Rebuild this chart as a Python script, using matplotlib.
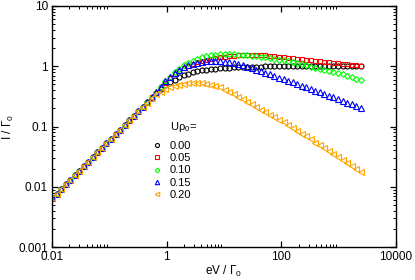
import numpy as np
import matplotlib
matplotlib.use("Agg")
import matplotlib.pyplot as plt
from matplotlib.lines import Line2D
from matplotlib.ticker import FixedLocator, NullFormatter

plt.rcParams['font.family'] = ['Liberation Sans', 'DejaVu Sans']
plt.rcParams['mathtext.fontset'] = 'custom'
plt.rcParams['mathtext.rm'] = 'Liberation Sans'
plt.rcParams['mathtext.it'] = 'Liberation Sans:italic'

# bias voltage eV/Gamma0 (sampling points)
ev = [0.01, 0.012, 0.0144, 0.01728, 0.02074, 0.02488, 0.02986, 0.03583, 0.043, 0.0516,
      0.06192, 0.0743, 0.08916, 0.107, 0.1284, 0.1541, 0.1849, 0.2219, 0.2662, 0.3195,
      0.3834, 0.46, 0.5521, 0.6625, 0.795, 0.954, 1.145, 1.374, 1.648, 1.978,
      2.374, 2.849, 3.418, 4.102, 4.922, 5.907, 7.088, 8.506, 10.21, 12.25,
      14.7, 17.64, 21.17, 25.4, 30.48, 36.57, 43.89, 52.67, 63.2, 75.84,
      91.0, 109.2, 131.1, 157.3, 188.7, 226.5, 271.7, 326.1, 391.3, 469.6,
      563.5, 676.2, 811.4, 973.7, 1168.0, 1402.0, 1683.0, 2019.0, 2423.0]

# current I/Gamma0, common low-bias part
low_bias = [0.00646, 0.00769, 0.00916, 0.0109, 0.0130, 0.0155, 0.0185, 0.0220, 0.0262, 0.0312,
            0.0372, 0.0443, 0.0527, 0.0628, 0.0748, 0.0891, 0.106, 0.126, 0.151, 0.179, 0.214]

i_u000 = low_bias + [0.255, 0.302, 0.357, 0.42, 0.48, 0.54, 0.60, 0.655, 0.705, 0.75,
                     0.79, 0.825, 0.855, 0.88, 0.90, 0.915, 0.93, 0.943, 0.953, 0.962,
                     0.969, 0.975, 0.98, 0.984, 0.987, 0.99, 0.992, 0.994, 0.995, 0.996,
                     0.997, 0.998, 0.998, 0.999, 0.999, 0.999, 1.0, 1.0, 1.0, 1.0,
                     1.0, 1.0, 1.0, 1.0, 1.0, 1.0, 1.0, 1.0]
i_u005 = low_bias + [0.256, 0.304, 0.362, 0.445, 0.53, 0.63, 0.73, 0.83, 0.92, 1.01,
                     1.09, 1.16, 1.23, 1.29, 1.34, 1.38, 1.42, 1.45, 1.48, 1.50,
                     1.52, 1.53, 1.54, 1.545, 1.54, 1.53, 1.515, 1.49, 1.46, 1.432,
                     1.404, 1.376, 1.35, 1.324, 1.298, 1.274, 1.25, 1.225, 1.202, 1.18,
                     1.159, 1.135, 1.114, 1.094, 1.072, 1.052, 1.033, 1.012]
i_u010 = low_bias + [0.257, 0.307, 0.37, 0.46, 0.56, 0.67, 0.79, 0.91, 1.03, 1.14,
                     1.24, 1.33, 1.41, 1.47, 1.52, 1.55, 1.57, 1.58, 1.58, 1.57,
                     1.56, 1.54, 1.52, 1.50, 1.47, 1.44, 1.405, 1.37, 1.33, 1.29,
                     1.25, 1.205, 1.16, 1.115, 1.07, 1.03, 0.99, 0.95, 0.91, 0.87,
                     0.835, 0.80, 0.765, 0.73, 0.69, 0.655, 0.625, 0.595]
i_u015 = low_bias + [0.257, 0.306, 0.37, 0.46, 0.56, 0.67, 0.78, 0.88, 0.97, 1.04,
                     1.10, 1.15, 1.18, 1.20, 1.21, 1.215, 1.21, 1.195, 1.175, 1.15,
                     1.10, 1.05, 0.99, 0.94, 0.88, 0.83, 0.78, 0.735, 0.69, 0.65,
                     0.61, 0.575, 0.54, 0.505, 0.475, 0.445, 0.418, 0.392, 0.367, 0.345,
                     0.323, 0.303, 0.284, 0.266, 0.249, 0.232, 0.216, 0.200]
i_u020 = low_bias + [0.25, 0.295, 0.34, 0.38, 0.415, 0.445, 0.47, 0.49, 0.508, 0.52,
                     0.527, 0.528, 0.523, 0.512, 0.497, 0.475, 0.447, 0.41, 0.374, 0.34,
                     0.309, 0.281, 0.255, 0.232, 0.211, 0.191, 0.173, 0.157, 0.143, 0.130,
                     0.118, 0.107, 0.0955, 0.0855, 0.0765, 0.0685, 0.0612, 0.0541, 0.0484, 0.0432,
                     0.0386, 0.0344, 0.0307, 0.0274, 0.0244, 0.0218, 0.0195, 0.0174]

labels = ['0.00', '0.05', '0.10', '0.15', '0.20']
series = [i_u000, i_u005, i_u010, i_u015, i_u020]
colors = ['black', '#ff0000', '#00ff00', '#0000ff', '#ffa500']
markers = ['o', 's', 'D', '^', '<']
msizes = [3.6, 3.4, 3.0, 4.0, 4.0]

fig = plt.figure(figsize=(4.15, 2.8), dpi=100)
ax = fig.add_axes([52/415, 1-247/280, 344/415, 241/280])

handles = []
for y, c, m, ms, lab in zip(series, colors, markers, msizes, labels):
    ax.plot(ev, y, linestyle='none', marker=m, ms=ms, mfc='none', mec=c, mew=0.8)
    handles.append(Line2D([], [], linestyle='none', marker=m, ms=ms*0.8, mfc='none', mec=c, mew=0.8))

ax.set_xscale('log')
ax.set_yscale('log')
ax.set_xlim(0.01, 10000)
ax.set_ylim(0.001, 10)

ax.xaxis.set_major_locator(FixedLocator([0.01, 1, 100, 10000]))
ax.xaxis.set_major_formatter(plt.FixedFormatter(['0.01', '1', '100', '10000']))
xminor = [k*10.0**e for e in (-2, 0, 2) for k in range(2, 10)]
ax.xaxis.set_minor_locator(FixedLocator(xminor))
ax.xaxis.set_minor_formatter(NullFormatter())

ax.yaxis.set_major_locator(FixedLocator([0.001, 0.01, 0.1, 1, 10]))
ax.yaxis.set_major_formatter(plt.FixedFormatter(['0.001', '0.01', '0.1', '1', '10']))
yminor = [k*10.0**e for e in (-3, -2, -1, 0) for k in range(2, 10)]
ax.yaxis.set_minor_locator(FixedLocator(yminor))
ax.yaxis.set_minor_formatter(NullFormatter())

ax.tick_params(which='both', direction='in', top=True, right=True, labelsize=8.5, pad=3)
ax.tick_params(which='major', length=4.5, width=0.9)
ax.tick_params(which='minor', length=2.3, width=0.7)
for s in ax.spines.values():
    s.set_linewidth(1.0)

ax.set_xlabel('eV / Γ$_0$', fontsize=8.5)
ax.set_ylabel('I / Γ$_0$', fontsize=8.5)
ax.xaxis.set_label_coords(0.5, -0.07)
ax.yaxis.set_label_coords(-0.105, 0.5)

fig.text(170/415, 1-127/280, 'Uρ$_0$=', fontsize=8, ha='left', va='center')
ax.legend(handles, labels, loc='upper left', bbox_to_anchor=(151/415, 1-141/280),
          bbox_transform=fig.transFigure, frameon=False, fontsize=8,
          borderpad=0, handlelength=1.0, handletextpad=0.65, labelspacing=0.2,
          borderaxespad=0)

fig.savefig('out.png', dpi=100)
